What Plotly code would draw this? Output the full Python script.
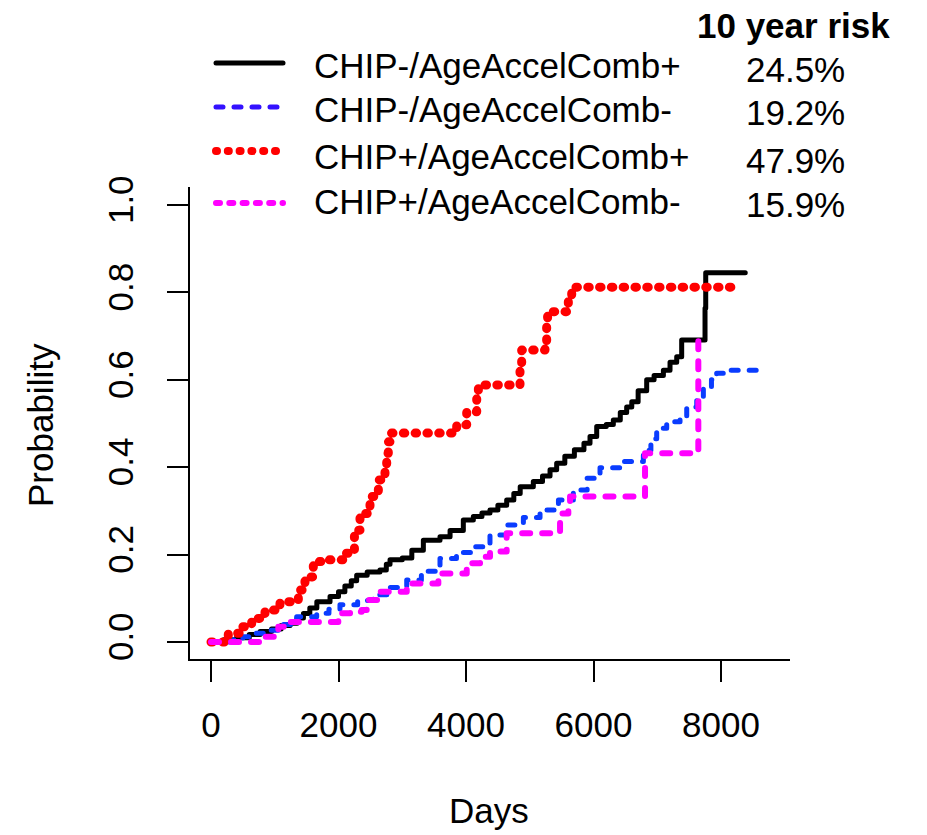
import plotly.graph_objects as go

# ---------------- data ----------------
series_names = ["CHIP-/AgeAccelComb+", "CHIP-/AgeAccelComb-",
                "CHIP+/AgeAccelComb+", "CHIP+/AgeAccelComb-"]
risk_labels = ["24.5%", "19.2%", "47.9%", "15.9%"]
risk_title = "10 year risk"

x_tick_vals = [0, 2000, 4000, 6000, 8000]
x_tick_text = ["0", "2000", "4000", "6000", "8000"]
y_tick_vals = [0.0, 0.2, 0.4, 0.6, 0.8, 1.0]
y_tick_text = ["0.0", "0.2", "0.4", "0.6", "0.8", "1.0"]

black_days = [0, 200, 400, 600, 770, 950, 1100, 1240, 1350, 1450, 1550, 1660, 1867,
              2000, 2100, 2200, 2285, 2450, 2650, 2750, 2808, 3000, 3150, 3331, 3592,
              3750, 3958, 4115, 4250, 4376, 4500, 4638, 4750, 4850, 5056, 5200, 5318,
              5422, 5550, 5700, 5850, 5945, 6050, 6200, 6311, 6420, 6520, 6600, 6700,
              6834, 6950, 7096, 7200, 7305, 7383, 7749, 7760, 8380]
black_prob = [0.0, 0.005, 0.01, 0.017, 0.024, 0.03, 0.038, 0.043, 0.055, 0.065, 0.078,
              0.092, 0.104, 0.115, 0.128, 0.14, 0.153, 0.16, 0.165, 0.178, 0.188, 0.192,
              0.21, 0.233, 0.241, 0.255, 0.279, 0.287, 0.295, 0.302, 0.313, 0.325, 0.34,
              0.355, 0.367, 0.38, 0.394, 0.409, 0.425, 0.44, 0.455, 0.47, 0.493, 0.498,
              0.508, 0.525, 0.538, 0.55, 0.575, 0.6, 0.61, 0.622, 0.64, 0.653, 0.691,
              0.764, 0.845, 0.845]

blue_days = [0, 300, 500, 700, 874, 1100, 1344, 1658, 1850, 2023, 2300, 2546, 2800,
             3070, 3300, 3592, 3850, 4115, 4376, 4638, 4900, 5161, 5450, 5683, 5900,
             6102, 6468, 6782, 6900, 6991, 7148, 7357, 7462, 7619, 7723, 7850, 7932,
             8089, 8690]
blue_prob = [0.0, 0.005, 0.012, 0.02, 0.027, 0.04, 0.058, 0.066, 0.075, 0.085, 0.095,
             0.108, 0.125, 0.142, 0.162, 0.191, 0.205, 0.218, 0.245, 0.268, 0.285,
             0.302, 0.325, 0.348, 0.375, 0.399, 0.413, 0.439, 0.465, 0.489, 0.504,
             0.512, 0.538, 0.56, 0.58, 0.6, 0.615, 0.622, 0.622]

red_days = [0, 271, 455, 638, 847, 1082, 1370, 1474, 1605, 1815, 2076, 2207, 2250,
            2337, 2494, 2625, 2729, 2756, 2781, 2808, 3854, 4011, 4168, 4194, 4847,
            4873, 5239, 5265, 5280, 5579, 5605, 5658, 8190]
red_prob = [0.0, 0.02, 0.035, 0.054, 0.073, 0.092, 0.119, 0.149, 0.184, 0.188, 0.203,
            0.211, 0.256, 0.294, 0.333, 0.371, 0.401, 0.432, 0.458, 0.478, 0.497,
            0.527, 0.558, 0.588, 0.626, 0.668, 0.676, 0.722, 0.756, 0.763, 0.794,
            0.812, 0.812]

magenta_days = [0, 821, 1056, 1239, 1997, 2181, 2364, 2442, 2651, 3070, 3566, 4011,
                4220, 4376, 4638, 5475, 5605, 5632, 6808, 7644]
magenta_prob = [0.0, 0.012, 0.035, 0.046, 0.066, 0.069, 0.073, 0.096, 0.115, 0.134,
                0.157, 0.18, 0.195, 0.207, 0.249, 0.294, 0.317, 0.333, 0.432, 0.714]

all_days = [black_days, blue_days, red_days, magenta_days]
all_prob = [black_prob, blue_prob, red_prob, magenta_prob]

# ---------------- styles ----------------
colors = ["#000000", "#0a3cff", "#ff0000", "#ff00ff"]
legend_colors = ["#000000", "#3311ff", "#ff0000", "#ff00ff"]
widths = [5, 5, 9, 6]
dashes = ["solid", "7px,11px", "1.5px,10.3px", "8px,12px"]
legend_widths = [5, 5, 8, 6]
legend_dashes = ["solid", "7px,11px", "1px,10.8px", "4px,9.3px"]

FONT = "Liberation Sans, Arial, Helvetica, sans-serif"
FS = 35

fig = go.Figure()
for name, d, p, c, w, ds in zip(series_names, all_days, all_prob, colors, widths, dashes):
    fig.add_trace(go.Scatter(x=d, y=p, mode="lines", name=name,
                             line=dict(shape="hv", color=c, width=w, dash=ds),
                             showlegend=False, hoverinfo="skip"))

# plot area: x 190..790 px, y 187..659 px
def px_x(px):
    return (px - 190) / 600.0

def px_y(py):
    return (659 - py) / 472.0

leg_line_y = [63, 107, 151, 203]
leg_text_y = [66, 109, 156, 201]
risk_text_y = [69, 112, 160, 204]

shapes = []
annotations = []
for i in range(4):
    shapes.append(dict(type="line", xref="paper", yref="paper",
                       x0=px_x(216), x1=px_x(283),
                       y0=px_y(leg_line_y[i]), y1=px_y(leg_line_y[i]),
                       line=dict(color=legend_colors[i], width=legend_widths[i],
                                 dash=legend_dashes[i])))
    annotations.append(dict(xref="paper", yref="paper", x=px_x(312), y=px_y(leg_text_y[i]),
                            xanchor="left", yanchor="middle", showarrow=False,
                            text=series_names[i], font=dict(family=FONT, size=FS, color="black")))
    annotations.append(dict(xref="paper", yref="paper", x=px_x(744), y=px_y(risk_text_y[i]),
                            xanchor="left", yanchor="middle", showarrow=False,
                            text=risk_labels[i], font=dict(family=FONT, size=FS, color="black")))
annotations.append(dict(xref="paper", yref="paper", x=px_x(695), y=px_y(26),
                        xanchor="left", yanchor="middle", showarrow=False,
                        text="<b>" + risk_title + "</b>",
                        font=dict(family=FONT, size=FS, color="black")))
annotations.append(dict(xref="paper", yref="paper", x=px_x(489), y=px_y(810),
                        xanchor="center", yanchor="middle", showarrow=False,
                        text="Days", font=dict(family=FONT, size=FS, color="black")))
annotations.append(dict(xref="paper", yref="paper", x=px_x(40), y=px_y(425),
                        xanchor="center", yanchor="middle", showarrow=False, textangle=-90,
                        text="Probability", font=dict(family=FONT, size=FS, color="black")))

fig.update_layout(
    width=927, height=835,
    margin=dict(l=190, r=137, t=187, b=176, pad=0),
    paper_bgcolor="white", plot_bgcolor="white",
    showlegend=False,
    shapes=shapes, annotations=annotations,
    font=dict(family=FONT, size=FS, color="black"),
)
fig.update_xaxes(range=[-329.4, 9082], tickvals=x_tick_vals, ticktext=x_tick_text,
                 showline=True, linecolor="black", linewidth=1.5, mirror=False,
                 ticks="outside", ticklen=21, tickwidth=1.5, tickcolor="black",
                 showgrid=False, zeroline=False, ticklabelstandoff=13,
                 tickfont=dict(family=FONT, size=FS, color="black"))
fig.update_yaxes(range=[-0.0389, 1.0412], tickvals=y_tick_vals, ticktext=y_tick_text,
                 showline=True, linecolor="black", linewidth=1.5, mirror=False,
                 ticks="outside", ticklen=21, tickwidth=1.5, tickcolor="black",
                 showgrid=False, zeroline=False, tickangle=-90, ticklabelstandoff=20,
                 tickfont=dict(family=FONT, size=FS, color="black"))

css = ("var s=document.createElement('style');"
       "s.innerHTML='html,body{margin:0;padding:0;overflow:hidden}"
       " .scatterlayer .js-line{stroke-linecap:round;stroke-linejoin:round}"
       " .shapelayer path{stroke-linecap:round}';"
       "document.head.appendChild(s);")
fig.write_html("out.html", post_script=css, config={"displayModeBar": False})
